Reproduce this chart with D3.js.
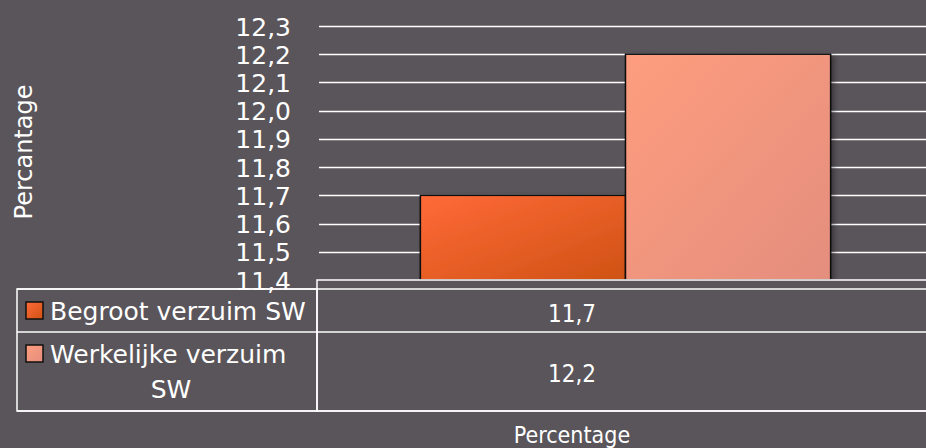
<!DOCTYPE html>
<html>
<head>
<meta charset="utf-8">
<script src="https://cdn.jsdelivr.net/npm/d3@7"></script>
<style>
  html, body { margin: 0; padding: 0; background: #5a555a; }
  svg { display: block; font-family: "DejaVu Sans", sans-serif; }
  .narrow { font-family: "DejaVu Sans Condensed", "DejaVu Sans", sans-serif; font-stretch: condensed; }
</style>
</head>
<body>
<svg id="chart"></svg>
<script>
const WIDTH = 926;
const HEIGHT = 448;

// data
const categories = ["Percentage"];
const seriesNames = ["Begroot verzuim SW", "Werkelijke verzuim SW"];
const seriesLines = [["Begroot verzuim SW"], ["Werkelijke verzuim", "SW"]];
const seriesValues = [11.7, 12.2];
const valueLabels = ["11,7", "12,2"];
const yTicks = [11.4, 11.5, 11.6, 11.7, 11.8, 11.9, 12.0, 12.1, 12.2, 12.3];
const yTitle = "Percantage";

const BG = "#5a555a";
const PLOT_LEFT = 321, PLOT_RIGHT = 930;
const PLOT_TOP = 26, PLOT_BOTTOM = 280;
const TABLE_LEFT = 17, TABLE_SPLIT = 317, TABLE_TOP = 289;
const ROW_BOTTOMS = [332, 411];
const VALUE_X = 572;

function main(){
    var svg = d3.select("#chart")
        .attr("width", WIDTH)
        .attr("height", HEIGHT);

    svg.append("rect").attr("width", WIDTH).attr("height", HEIGHT).attr("fill", BG);

    var defs = svg.append("defs");
    var grads = [["#ff6a38", "#cf5214"], ["#fe9d7e", "#e48e7e"]];
    grads.forEach((g, i)=>{
        var lg = defs.append("linearGradient")
            .attr("id", "grad" + i)
            .attr("x1", "0").attr("y1", "0").attr("x2", "1").attr("y2", "1");
        lg.append("stop").attr("offset", "0%").attr("stop-color", g[0]);
        lg.append("stop").attr("offset", "100%").attr("stop-color", g[1]);
    });
    var shadow = defs.append("filter").attr("id", "shadow")
        .attr("x", "-10%").attr("y", "-10%").attr("width", "130%").attr("height", "130%");
    shadow.append("feDropShadow")
        .attr("dx", 3).attr("dy", 2).attr("stdDeviation", 2.5)
        .attr("flood-color", "#000").attr("flood-opacity", 0.35);

    var y = d3.scaleLinear()
        .domain([yTicks[0], yTicks[yTicks.length - 1]])
        .range([PLOT_BOTTOM, PLOT_TOP]);

    var x0 = d3.scaleBand()
        .domain(categories)
        .range([PLOT_LEFT, PLOT_RIGHT])
        .padding(0.195);

    var x1 = d3.scaleBand()
        .domain(seriesNames)
        .range([0, x0.bandwidth()]);

    // gridlines
    svg.append("g")
        .selectAll("line")
        .data(yTicks.slice(1))
        .enter()
        .append("line")
        .attr("x1", 319).attr("x2", WIDTH)
        .attr("y1", d=>Math.round(y(d)) + 0.5)
        .attr("y2", d=>Math.round(y(d)) + 0.5)
        .attr("stroke", "#ffffff")
        .attr("stroke-width", 1.5);

    // y axis labels
    var yAxis = d3.axisLeft(y)
        .tickValues(yTicks)
        .tickSize(0)
        .tickPadding(0)
        .tickFormat(d=>d3.format(".1f")(d).replace(".", ","));
    var yg = svg.append("g")
        .attr("transform", "translate(291,0)")
        .call(yAxis);
    yg.select(".domain").remove();
    yg.selectAll("text")
        .attr("fill", "#ffffff")
        .attr("font-size", 25)
        .attr("font-family", "DejaVu Sans, sans-serif")
        .attr("dy", "0.36em");

    // bars
    svg.append("g")
        .selectAll("rect")
        .data(seriesValues)
        .enter()
        .append("rect")
        .attr("x", (d, i)=>x0(categories[0]) + x1(seriesNames[i]))
        .attr("y", d=>y(d))
        .attr("width", x1.bandwidth())
        .attr("height", d=>y(yTicks[0]) - y(d))
        .attr("fill", (d, i)=>"url(#grad" + i + ")")
        .attr("stroke", "#111")
        .attr("stroke-width", 1.5)
        .attr("filter", "url(#shadow)");

    // data table
    var table = svg.append("g")
        .attr("stroke", "#ffffff")
        .attr("stroke-width", 1.5)
        .attr("fill", "none");
    table.append("rect")
        .attr("x", TABLE_SPLIT).attr("y", PLOT_BOTTOM)
        .attr("width", WIDTH).attr("height", ROW_BOTTOMS[1] - PLOT_BOTTOM)
        .attr("fill", BG);
    table.append("line")
        .attr("x1", TABLE_LEFT).attr("x2", WIDTH)
        .attr("y1", TABLE_TOP).attr("y2", TABLE_TOP);
    table.append("rect")
        .attr("x", TABLE_LEFT).attr("y", TABLE_TOP)
        .attr("width", TABLE_SPLIT - TABLE_LEFT).attr("height", ROW_BOTTOMS[1] - TABLE_TOP);
    table.append("line")
        .attr("x1", TABLE_LEFT).attr("x2", WIDTH)
        .attr("y1", ROW_BOTTOMS[0]).attr("y2", ROW_BOTTOMS[0]);
    table.append("line")
        .attr("x1", TABLE_LEFT).attr("x2", WIDTH)
        .attr("y1", ROW_BOTTOMS[1]).attr("y2", ROW_BOTTOMS[1]);

    // legend keys + labels
    var rowTops = [TABLE_TOP, ROW_BOTTOMS[0]];
    seriesNames.forEach((name, i)=>{
        svg.append("rect")
            .attr("x", 26).attr("y", rowTops[i] + 13)
            .attr("width", 17).attr("height", 17)
            .attr("fill", "url(#grad" + i + ")")
            .attr("stroke", "#111")
            .attr("stroke-width", 1.5);
        var t = svg.append("text")
            .attr("fill", "#ffffff")
            .attr("font-size", 25);
        seriesLines[i].forEach((line, j)=>{
            t.append("tspan")
                .attr("x", j == 0 ? 50 : 171)
                .attr("y", rowTops[i] + 31 + j * 35)
                .attr("text-anchor", j == 0 ? "start" : "middle")
                .text(line);
        });
        svg.append("text")
            .attr("class", "narrow")
            .attr("x", VALUE_X)
            .attr("y", i == 0 ? 322 : 382)
            .attr("text-anchor", "middle")
            .attr("fill", "#ffffff")
            .attr("font-size", 24)
            .text(valueLabels[i]);
    });

    // axis titles
    svg.append("text")
        .attr("class", "narrow")
        .attr("x", VALUE_X).attr("y", 443)
        .attr("text-anchor", "middle")
        .attr("fill", "#ffffff")
        .attr("font-size", 23)
        .text(categories[0]);

    svg.append("text")
        .attr("transform", "translate(32,152) rotate(-90)")
        .attr("text-anchor", "middle")
        .attr("fill", "#ffffff")
        .attr("font-size", 24)
        .text(yTitle);
}

main();
</script>
</body>
</html>
